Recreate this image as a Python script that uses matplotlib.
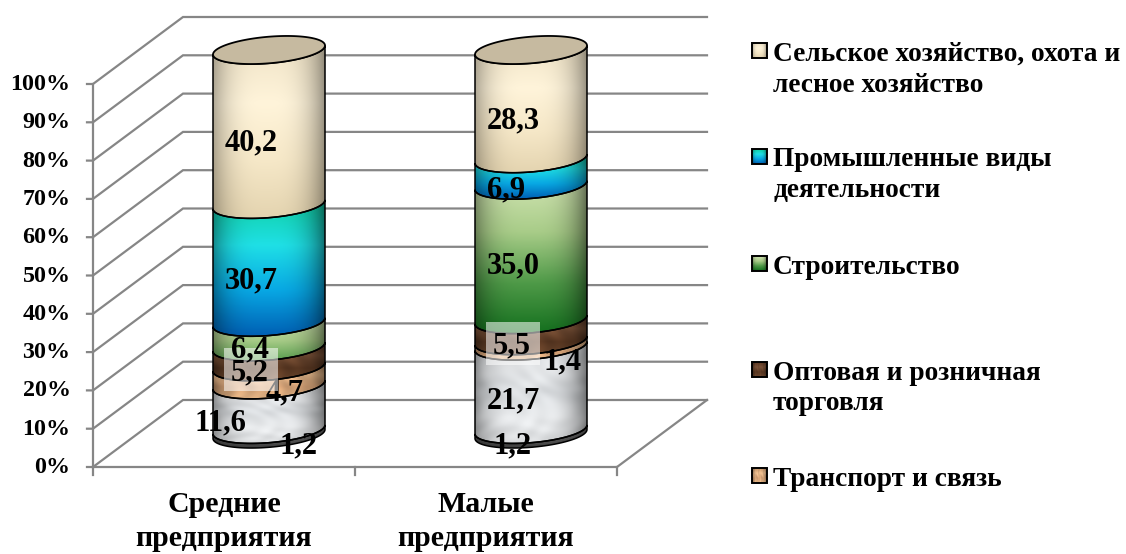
import numpy as np
import matplotlib
matplotlib.use('Agg')
import matplotlib.pyplot as plt
from matplotlib.colors import LinearSegmentedColormap
from matplotlib.patches import Polygon, Rectangle

plt.rcParams['font.family'] = ['Liberation Serif', 'DejaVu Serif']
plt.rcParams['font.weight'] = 'bold'

# --- data ---
categories = ['Средние\nпредприятия', 'Малые\nпредприятия']
ticks = [0, 10, 20, 30, 40, 50, 60, 70, 80, 90, 100]
series_names = ['Прочие', 'Операции с недвижимостью', 'Транспорт и связь',
                'Оптовая и розничная\nторговля', 'Строительство',
                'Промышленные виды\nдеятельности', 'Сельское хозяйство, охота и\nлесное хозяйство']
medium = [1.2, 11.6, 4.7, 5.2, 6.4, 30.7, 40.2]
small = [1.2, 21.7, 1.4, 5.5, 35.0, 6.9, 28.3]
legend_rows = [6, 5, 4, 3, 2]

# --- layout (pixels in the 1126x554 picture) ---
W, H = 1126, 554
CX0, CX1 = 269, 531    # cylinder centres
Y0, Y100 = 434, 50     # cylinder 0% and 100%
PX_X = CX1 - CX0
PX_Y = (Y0 - Y100) / 100
RX, RY, TILT = 56, 13.3, 4.5
GRID = '#868686'


def X(px):
    return (px - CX0) / PX_X


def Y(py):
    return (Y0 - py) / PX_Y


stops = {
    0: ['#8a8a8a', '#3c3c3c'],
    1: ['#d4d7da', '#e6e8ea', '#dcdfe2', '#eceef0', '#dadcde'],
    2: ['#c8966a', '#eebf90', '#d8a478', '#e6b686'],
    3: ['#5e3a24', '#7a5238', '#5a3822', '#6e482e'],
    4: ['#cfe3b0', '#a8cc88', '#4f9a48', '#14701e'],
    5: ['#10d0a4', '#1fe0e6', '#08a8e4', '#0060b4'],
    6: ['#f0e4c8', '#fff4da', '#f6e8c8', '#e4d4b0'],
}


def texture(k, height=100, nx=120, ny=120):
    u, v = np.meshgrid(np.linspace(0, 1, nx), np.linspace(0, 1, ny))
    cmap = LinearSegmentedColormap.from_list('s', stops[k])
    # thin green bands do not reach the dark end of the gradient
    vv = v * min(1, 0.55 + height / 35 * 0.45) if k == 4 else v
    img = cmap(vv)[:, :, :3]
    if k == 1:
        # marble
        m = np.sin(9 * u + 5 * np.sin(7 * v)) * np.sin(8 * v + 4 * np.sin(6 * u))
        img = img + 0.035 * m[:, :, None]
    if k in (2, 3):
        # wood
        m = np.sin(28 * u + 2 * np.sin(6 * v)) * np.sin(9 * u + 3 * v)
        img = img * (1 + 0.09 * m[:, :, None])
    s = np.abs(u - 0.48) / 0.52
    shade = 1 - (0.4 if k == 6 else 0.5) * s ** 3.2
    return np.clip(img * shade[:, :, None], 0, 1)


t = np.linspace(0, np.pi, 60)
arc_x = np.cos(t) * RX / PX_X
arc_y = -(RY * np.sin(t) - TILT * np.cos(t)) / PX_Y

fig = plt.figure(figsize=(W / 100, H / 100), dpi=100)
ax = fig.add_axes([0, 0, 1, 1])
ax.axis('off')

# --- walls ---
dx, dy = 90, 67
lw = 1.6
for v in ticks:
    yf = 467 - v * 3.83
    ax.plot([X(87), X(93), X(93 + dx), X(707)],
            [Y(yf), Y(yf), Y(yf - dy), Y(yf - dy)], color=GRID, lw=lw, zorder=1, solid_joinstyle='miter')
    ax.text(X(70.5), Y(yf + 0.5), f'{v}%', ha='right', va='center', fontsize=17.3, color='black')
ax.plot([X(93), X(93)], [Y(467), Y(84)], color=GRID, lw=lw, zorder=1)
ax.plot([X(93), X(617), X(707)], [Y(467), Y(467), Y(400)], color=GRID, lw=lw, zorder=1)
for px in [93, 355, 617]:
    ax.plot([X(px), X(px)], [Y(467), Y(475)], color=GRID, lw=lw, zorder=1)


# --- cylinders ---
def draw_cylinder(pos, values):
    vals = np.array(values, dtype=float)
    vals = vals / vals.sum() * 100
    tops = np.cumsum(vals)
    bottoms = tops - vals
    for k in range(len(vals)):
        xs = np.r_[pos + arc_x, (pos + arc_x)[::-1]]
        ys = np.r_[bottoms[k] + arc_y, (tops[k] + arc_y)[::-1]]
        poly = Polygon(np.c_[xs, ys], closed=True, fc='none', ec='black', lw=1.1, zorder=4)
        ax.add_patch(poly)
        im = ax.imshow(texture(k, vals[k]), extent=[xs.min(), xs.max(), ys.min(), ys.max()],
                       origin='upper', aspect='auto', zorder=3, interpolation='bilinear')
        im.set_clip_path(poly)
    # top face
    tt = np.linspace(0, 2 * np.pi, 120)
    tx = pos + np.cos(tt) * RX / PX_X
    ty = tops[-1] - (RY * np.sin(tt) - TILT * np.cos(tt)) / PX_Y
    ax.add_patch(Polygon(np.c_[tx, ty], closed=True, fc='#c6baa0', ec='black', lw=1.3, zorder=5))


draw_cylinder(0, medium)
draw_cylinder(1, small)

# --- data labels, in the order they were painted ---
boxes = [(224, 348, 54, 43), (486, 322, 54, 43)]
for bx, by, bw, bh in boxes:
    ax.add_patch(Rectangle((X(bx), Y(by + bh)), bw / PX_X, bh / PX_Y, fc='white', ec='none',
                           alpha=0.55, zorder=7))

label_px = [
    (medium[6], 251, 142, 6), (medium[5], 251, 280, 6), (medium[4], 250, 349, 8),
    (medium[3], 250, 372, 8), (medium[2], 285, 392, 6), (medium[1], 220, 422, 6), (medium[0], 298, 445, 6),
    (small[6], 513, 120, 6), (small[5], 506, 189, 6), (small[4], 513, 265, 6),
    (small[3], 512, 345, 8), (small[2], 563, 361, 6), (small[1], 513, 400, 6), (small[0], 513, 445, 6),
]
for val, lx, ly, z in label_px:
    ax.text(X(lx), Y(ly + 1), f'{val:.1f}'.replace('.', ','), ha='center', va='center',
            fontsize=22, color='black', zorder=z)

# --- category labels ---
for name, px in zip(categories, [224, 486]):
    a, b = name.split('\n')
    ax.text(X(px), Y(505), a, ha='center', va='center', fontsize=21.5)
    ax.text(X(px), Y(539), b, ha='center', va='center', fontsize=21.5)

# --- legend ---
swatch_y = [43, 149, 256, 362, 468]
for k, sy in zip(legend_rows, swatch_y):
    r = Rectangle((X(752), Y(sy + 15)), 15 / PX_X, 15 / PX_Y, fc='none', ec='black', lw=1.4, zorder=4)
    ax.add_patch(r)
    im = ax.imshow(texture(k, nx=20, ny=20), extent=[X(752), X(767), Y(sy + 15), Y(sy)], origin='upper',
                   aspect='auto', zorder=3)
    for i, line in enumerate(series_names[k].split('\n')):
        ax.text(X(773), Y(sy + 11 + i * 31), line, ha='left', va='center', fontsize=19.75)

ax.set_xlim(X(0), X(W))
ax.set_ylim(Y(H), Y(0))
fig.savefig('out.png', dpi=100, facecolor='white')
